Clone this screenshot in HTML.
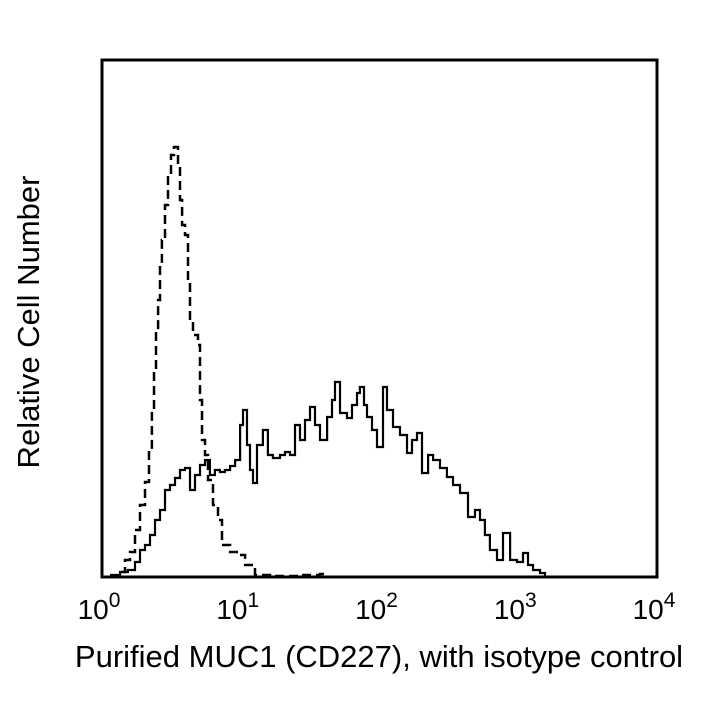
<!DOCTYPE html>
<html><head><meta charset="utf-8"><style>
html,body{margin:0;padding:0;background:#fff;}
svg{display:block;font-family:"Liberation Sans",Arial,sans-serif;}
</style></head><body>
<svg id="chart" width="720" height="720" viewBox="0 0 720 720" xmlns="http://www.w3.org/2000/svg">
<rect x="0" y="0" width="720" height="720" fill="#fff"/>
<g id="plot"></g>
<rect x="102" y="60" width="555" height="517" fill="none" stroke="#000" stroke-width="3"/>
<g id="ticks"></g>
<text x="379" y="667" font-size="31" text-anchor="middle">Purified MUC1 (CD227), with isotype control</text>
<text transform="translate(39,322) rotate(-90)" font-size="31" text-anchor="middle">Relative Cell Number</text>
</svg>
<script>
// x = log10 fluorescence, y = relative count
const tickExponents = ["0","1","2","3","4"];
const isotypeSeries = [[0.072,0],[0.115,5],[0.166,17],[0.202,25],[0.238,47],[0.274,72],[0.310,95],[0.339,127],[0.360,167],[0.375,207],[0.389,247],[0.404,277],[0.418,312],[0.432,337],[0.454,372],[0.476,402],[0.497,422],[0.519,430],[0.548,412],[0.562,377],[0.577,352],[0.598,342],[0.620,297],[0.634,257],[0.656,242],[0.692,232],[0.706,177],[0.721,137],[0.742,122],[0.764,97],[0.800,72],[0.836,57],[0.865,32],[0.923,25],[0.980,22],[1.031,12],[1.103,2],[1.211,1],[1.427,2],[1.571,3],[1.600,0]];
const muc1Series = [[0.058,2],[0.130,5],[0.187,7],[0.238,15],[0.274,27],[0.310,32],[0.346,42],[0.382,57],[0.418,67],[0.454,87],[0.490,92],[0.526,99],[0.562,107],[0.598,109],[0.634,87],[0.670,102],[0.706,112],[0.742,117],[0.778,102],[0.814,107],[0.850,105],[0.886,107],[0.923,111],[0.959,117],[0.995,152],[1.016,167],[1.045,132],[1.067,107],[1.088,94],[1.117,132],[1.160,147],[1.196,122],[1.232,119],[1.283,122],[1.319,125],[1.355,122],[1.391,152],[1.427,137],[1.463,157],[1.499,170],[1.535,152],[1.571,137],[1.622,160],[1.658,177],[1.679,195],[1.715,164],[1.766,159],[1.802,172],[1.838,184],[1.859,190],[1.888,172],[1.910,160],[1.946,147],[1.982,130],[2.025,190],[2.054,167],[2.097,150],[2.148,142],[2.198,124],[2.234,137],[2.270,144],[2.306,104],[2.350,122],[2.386,117],[2.436,109],[2.486,100],[2.530,92],[2.580,84],[2.638,60],[2.688,67],[2.724,57],[2.760,42],[2.796,27],[2.847,17],[2.890,44],[2.941,17],[2.991,15],[3.034,24],[3.070,12],[3.106,7],[3.157,4],[3.193,0]];

const X0=102,X1=657,Y0=577,Y1=60;
const xMin=0,xMax=4,yMax=517;
function xs(v){return X0+(v-xMin)/(xMax-xMin)*(X1-X0);}
function ys(v){return Y0-v/yMax*(Y0-Y1);}
const NS="http://www.w3.org/2000/svg";
function stepPath(s){
  let d="M"+xs(s[0][0]).toFixed(1)+","+ys(s[0][1]).toFixed(1);
  for(let i=1;i<s.length;i++){
    d+="H"+xs(s[i][0]).toFixed(1)+"V"+ys(s[i][1]).toFixed(1);
  }
  return d;
}
const plot=document.getElementById("plot");
const p1=document.createElementNS(NS,"path");
p1.setAttribute("d",stepPath(isotypeSeries));
p1.setAttribute("fill","none");p1.setAttribute("stroke","#000");
p1.setAttribute("stroke-width","2.5");p1.setAttribute("stroke-dasharray","9,5");


plot.appendChild(p1);
const p2=document.createElementNS(NS,"path");
p2.setAttribute("d",stepPath(muc1Series));
p2.setAttribute("fill","none");p2.setAttribute("stroke","#000");
p2.setAttribute("stroke-width","2.2");


plot.appendChild(p2);

const ticks=document.getElementById("ticks");
tickExponents.forEach((e,i)=>{
  const t=document.createElementNS(NS,"text");
  t.setAttribute("x",xs(i)-3);t.setAttribute("y",619);
  t.setAttribute("font-size","28");t.setAttribute("text-anchor","middle");
  
  
  t.textContent="10";
  const s=document.createElementNS(NS,"tspan");
  s.setAttribute("dy","-12");s.setAttribute("font-size","21");
  s.textContent=e;
  t.appendChild(s);
  ticks.appendChild(t);
});
</script>
</body></html>
